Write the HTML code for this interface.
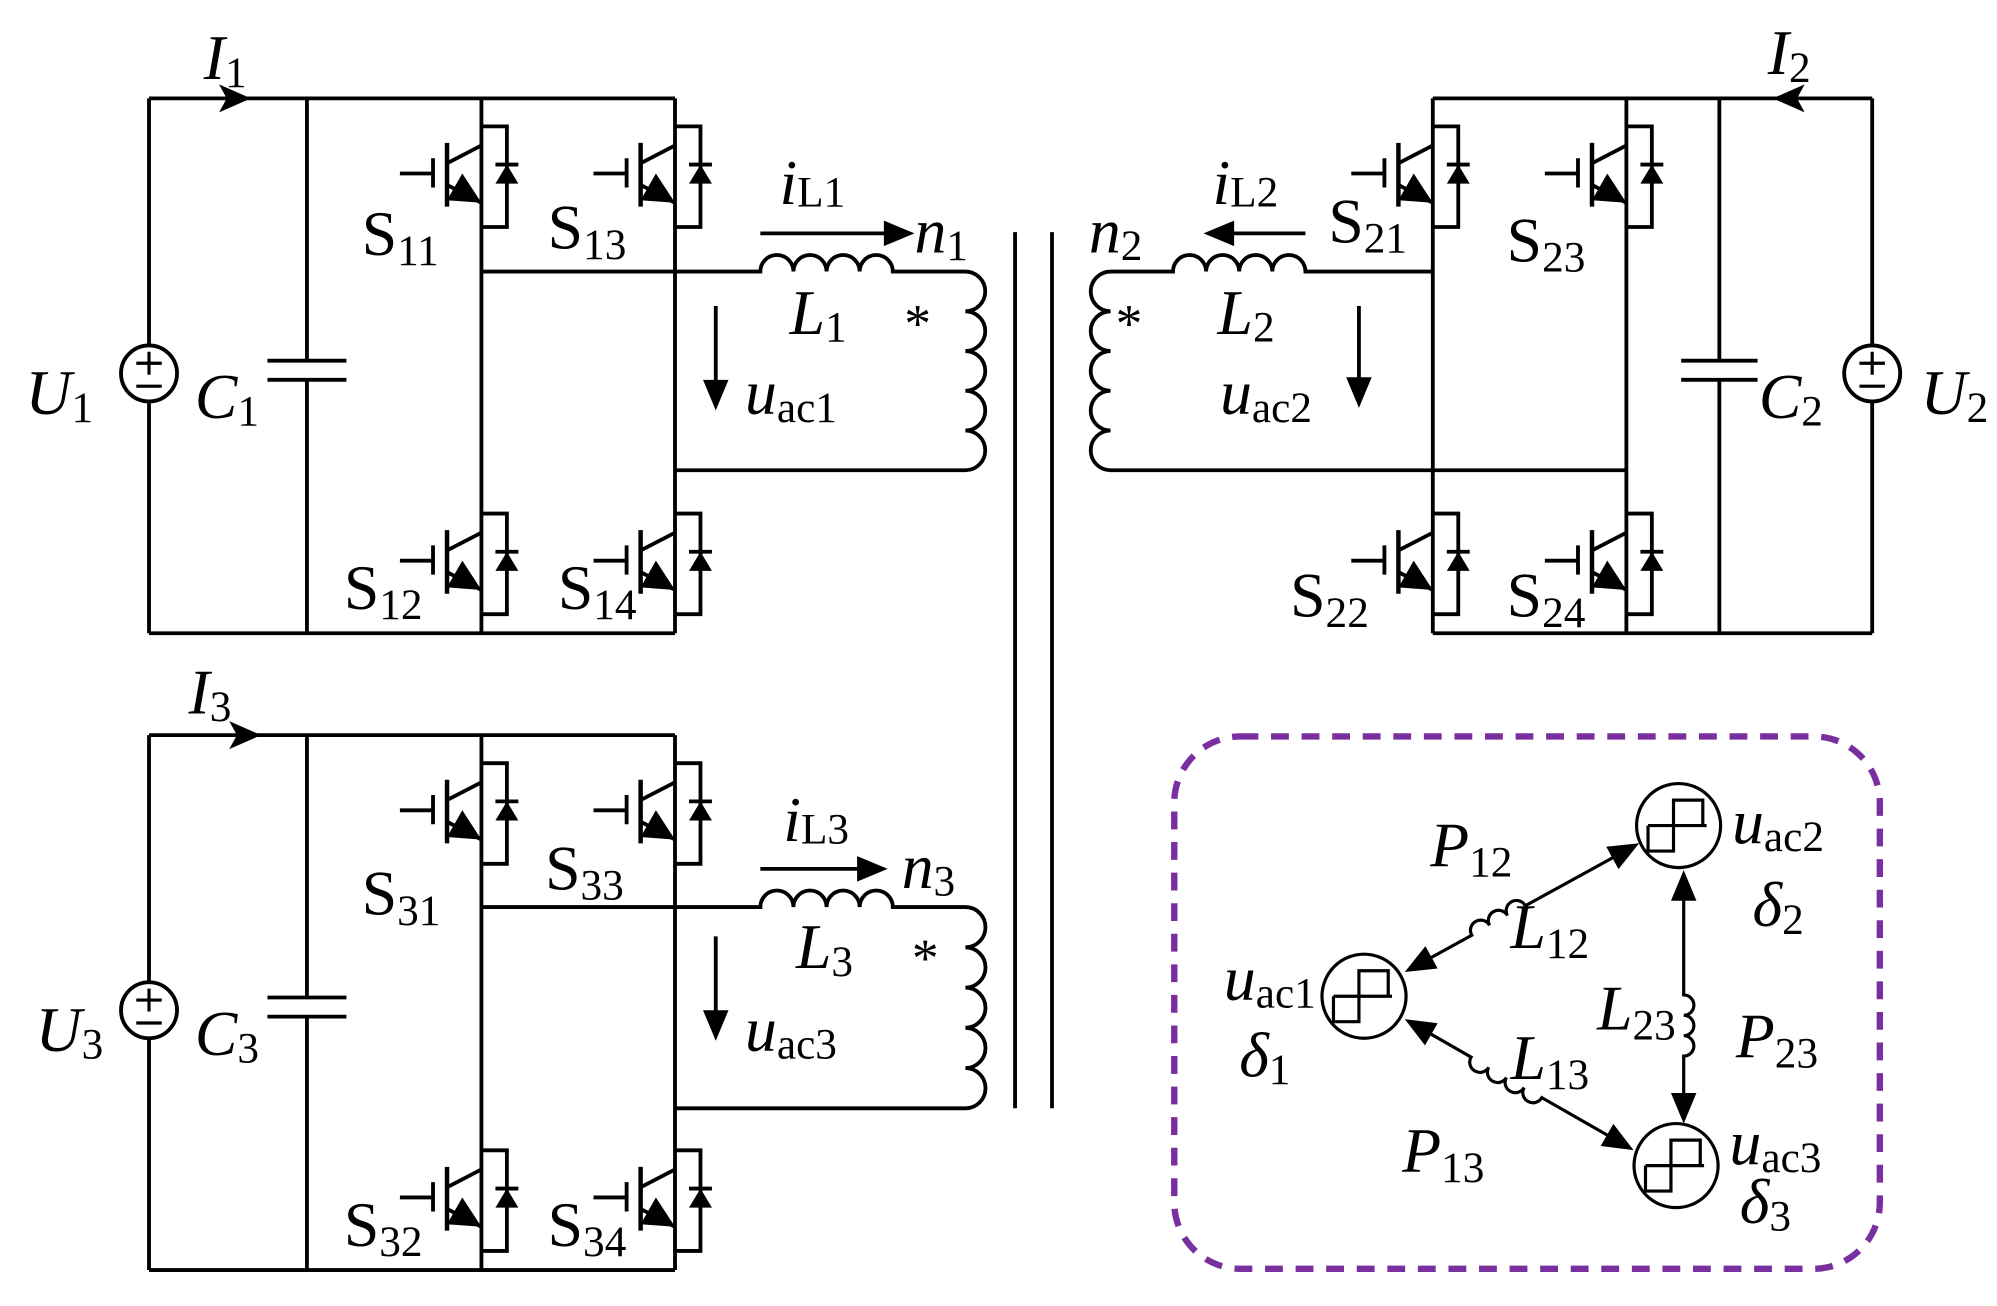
<!DOCTYPE html>
<html><head><meta charset="utf-8"><style>
html,body{margin:0;padding:0;background:#fff;}
svg{display:block;}
text{font-family:"Liberation Serif",serif;fill:#000;}
.i{font-style:italic;}
</style></head><body>
<svg width="1997" height="1306" viewBox="0 0 1568 1025" xmlns="http://www.w3.org/2000/svg">
<defs>
<g id="igbt" fill="none" stroke="#000" stroke-width="3">
<path d="M-64,0 H-38 M-38,-12 V11 M-27,-8 L0,-22 M-27,9 L0,23 M0,-37 H20 V42 H0"/>
<path d="M-27,-24 V26" stroke-width="3.5"/>
<polygon points="0,23 -27,21 -15,0" fill="#000" stroke="none"/>
<polygon points="11,8 29,8 20,-7" fill="#000" stroke="none"/>
<path d="M11,-7 H29"/>
</g>
<g id="src">
<circle cx="0" cy="0" r="22" fill="#fff" stroke="#000" stroke-width="3"/>
<path d="M-10,-8 H10 M0,-17 V1 M-10,10 H10" stroke="#000" stroke-width="2.5"/>
</g>
<g id="wave" fill="none" stroke="#000" stroke-width="2.5">
<path d="M-24,0 V20 H-4 V-20 H19 V0 M-24,0 H22"/>
</g>
</defs>

<g fill="none" stroke="#000" stroke-width="3">
<path d="M117,77 H530 M117,497 H530 M117,77 V497 M241,77 V283 M241,298 V497 M210,283 H272 M210,298 H272 M378,77 V497 M530,77 V497"/>
<path d="M378,213 H597 a13,13 0 0 1 26,0 a13,13 0 0 1 26,0 a13,13 0 0 1 26,0 a13,13 0 0 1 26,0 H758 a15.6,15.6 0 0 1 0,31.2 a15.6,15.6 0 0 1 0,31.2 a15.6,15.6 0 0 1 0,31.2 a15.6,15.6 0 0 1 0,31.2 a15.6,15.6 0 0 1 0,31.2 H530"/>
<path d="M597,183 H705 M562,240 V305"/>
<path d="M117,577 H530 M117,997 H530 M117,577 V997 M241,577 V783 M241,798 V997 M210,783 H272 M210,798 H272 M378,577 V997 M530,577 V997"/>
<path d="M378,712 H597 a13,13 0 0 1 26,0 a13,13 0 0 1 26,0 a13,13 0 0 1 26,0 a13,13 0 0 1 26,0 H758 a15.8,15.8 0 0 1 0,31.6 a15.8,15.8 0 0 1 0,31.6 a15.8,15.8 0 0 1 0,31.6 a15.8,15.8 0 0 1 0,31.6 a15.8,15.8 0 0 1 0,31.6 H530"/>
<path d="M597,682 H685 M562,735 V800"/>
<path d="M1125,77 H1470 M1125,497 H1470 M1470,77 V497 M1350,77 V283 M1350,298 V497 M1320,283 H1380 M1320,298 H1380 M1125,77 V497 M1277,77 V497"/>
<path d="M1125,213 H1025 a13,13 0 0 0 -26,0 a13,13 0 0 0 -26,0 a13,13 0 0 0 -26,0 a13,13 0 0 0 -26,0 H872 a15.6,15.6 0 0 0 0,31.2 a15.6,15.6 0 0 0 0,31.2 a15.6,15.6 0 0 0 0,31.2 a15.6,15.6 0 0 0 0,31.2 a15.6,15.6 0 0 0 0,31.2 H1277"/>
<path d="M1025,183 H960 M1067,240 V305"/>
<path d="M797,182 V870 M826,182 V870"/>
</g>
<g fill="#000">
<polygon points="197,77 172,66 178,77 172,88"/>
<polygon points="205,577 180,566 186,577 180,588"/>
<polygon points="1392,77 1417,66 1411,77 1417,88"/>
<polygon points="718,183 694,173 694,193"/>
<polygon points="697,682 673,672 673,692"/>
<polygon points="945,183 969,173 969,193"/>
<polygon points="562,322 552,298 572,298"/>
<polygon points="562,817 552,793 572,793"/>
<polygon points="1067,320 1057,296 1077,296"/>
</g>
<use href="#src" x="117" y="293"/>
<use href="#src" x="117" y="793"/>
<use href="#src" x="1470" y="293"/>
<use href="#igbt" x="378" y="136"/>
<use href="#igbt" x="530" y="136"/>
<use href="#igbt" x="378" y="440"/>
<use href="#igbt" x="530" y="440"/>
<use href="#igbt" x="378" y="636"/>
<use href="#igbt" x="530" y="636"/>
<use href="#igbt" x="378" y="940"/>
<use href="#igbt" x="530" y="940"/>
<use href="#igbt" x="1125" y="136"/>
<use href="#igbt" x="1277" y="136"/>
<use href="#igbt" x="1125" y="440"/>
<use href="#igbt" x="1277" y="440"/>

<rect x="922" y="578" width="554" height="418" rx="52" fill="none" stroke="#7a2f9e" stroke-width="5" stroke-dasharray="14,10"/>
<g fill="none" stroke="#000" stroke-width="2.5">
<circle cx="1071" cy="782" r="33"/>
<circle cx="1318" cy="648" r="33"/>
<circle cx="1316" cy="915" r="33"/>
</g>
<use href="#wave" x="1071" y="782"/>
<use href="#wave" x="1318" y="648"/>
<use href="#wave" x="1316" y="915"/>
<g transform="translate(1103,763) rotate(-28.8)">
<path d="M18,0 H60 a8,8 0 0 1 16,0 a8,8 0 0 1 16,0 a8,8 0 0 1 16,0 H192" fill="none" stroke="#000" stroke-width="2.5"/>
<polygon points="0,0 24,-10 24,10" fill="#000"/>
<polygon points="210,0 186,-10 186,10" fill="#000"/>
</g>
<g transform="translate(1322,683) rotate(90)">
<path d="M18,0 H98 a8,8 0 0 1 16,0 a8,8 0 0 1 16,0 a8,8 0 0 1 16,0 H181" fill="none" stroke="#000" stroke-width="2.5"/>
<polygon points="0,0 24,-10 24,10" fill="#000"/>
<polygon points="199,0 175,-10 175,10" fill="#000"/>
</g>
<g transform="translate(1103,800) rotate(29.8)">
<path d="M18,0 H60 a8,8 0 0 0 16,0 a8,8 0 0 0 16,0 a8,8 0 0 0 16,0 a8,8 0 0 0 16,0 H189" fill="none" stroke="#000" stroke-width="2.5"/>
<polygon points="0,0 24,-10 24,10" fill="#000"/>
<polygon points="207,0 183,-10 183,10" fill="#000"/>
</g>

<g font-size="50">
<text x="160" y="62"><tspan class="i">I</tspan><tspan font-size="34" dy="6">1</tspan></text>
<text x="148" y="560"><tspan class="i">I</tspan><tspan font-size="34" dy="6">3</tspan></text>
<text x="1388" y="58"><tspan class="i">I</tspan><tspan font-size="34" dy="6">2</tspan></text>
<text x="20" y="325"><tspan class="i">U</tspan><tspan font-size="34" dy="6">1</tspan></text>
<text x="28" y="825"><tspan class="i">U</tspan><tspan font-size="34" dy="6">3</tspan></text>
<text x="1508" y="325"><tspan class="i">U</tspan><tspan font-size="34" dy="6">2</tspan></text>
<text x="153" y="328"><tspan class="i">C</tspan><tspan font-size="34" dy="6">1</tspan></text>
<text x="153" y="828"><tspan class="i">C</tspan><tspan font-size="34" dy="6">3</tspan></text>
<text x="1381" y="328"><tspan class="i">C</tspan><tspan font-size="34" dy="6">2</tspan></text>
<text x="284" y="200">S<tspan font-size="34" dy="8">11</tspan></text>
<text x="430" y="195">S<tspan font-size="34" dy="8">13</tspan></text>
<text x="270" y="478">S<tspan font-size="34" dy="8">12</tspan></text>
<text x="438" y="478">S<tspan font-size="34" dy="8">14</tspan></text>
<text x="284" y="718">S<tspan font-size="34" dy="8">31</tspan></text>
<text x="428" y="698">S<tspan font-size="34" dy="8">33</tspan></text>
<text x="270" y="978">S<tspan font-size="34" dy="8">32</tspan></text>
<text x="430" y="978">S<tspan font-size="34" dy="8">34</tspan></text>
<text x="1043" y="190">S<tspan font-size="34" dy="8">21</tspan></text>
<text x="1183" y="205">S<tspan font-size="34" dy="8">23</tspan></text>
<text x="1013" y="484">S<tspan font-size="34" dy="8">22</tspan></text>
<text x="1183" y="484">S<tspan font-size="34" dy="8">24</tspan></text>
<text x="612" y="160"><tspan class="i">i</tspan><tspan font-size="34" dy="2">L1</tspan></text>
<text x="615" y="660"><tspan class="i">i</tspan><tspan font-size="34" dy="2">L3</tspan></text>
<text x="952" y="160"><tspan class="i">i</tspan><tspan font-size="34" dy="2">L2</tspan></text>
<text x="718" y="198"><tspan class="i">n</tspan><tspan font-size="34" dy="6">1</tspan></text>
<text x="708" y="697"><tspan class="i">n</tspan><tspan font-size="34" dy="6">3</tspan></text>
<text x="855" y="198"><tspan class="i">n</tspan><tspan font-size="34" dy="6">2</tspan></text>
<text x="620" y="262"><tspan class="i">L</tspan><tspan font-size="34" dy="6">1</tspan></text>
<text x="625" y="760"><tspan class="i">L</tspan><tspan font-size="34" dy="6">3</tspan></text>
<text x="956" y="262"><tspan class="i">L</tspan><tspan font-size="34" dy="6">2</tspan></text>
<text x="585" y="325"><tspan class="i">u</tspan><tspan font-size="34" dy="6">ac1</tspan></text>
<text x="585" y="825"><tspan class="i">u</tspan><tspan font-size="34" dy="6">ac3</tspan></text>
<text x="958" y="325"><tspan class="i">u</tspan><tspan font-size="34" dy="6">ac2</tspan></text>
<text x="710" y="268" font-size="42">*</text>
<text x="716" y="766" font-size="42">*</text>
<text x="876" y="268" font-size="42">*</text>
<text x="1123" y="680"><tspan class="i">P</tspan><tspan font-size="34" dy="8">12</tspan></text>
<text x="1186" y="744"><tspan class="i">L</tspan><tspan font-size="34" dy="8">12</tspan></text>
<text x="961" y="785"><tspan class="i">u</tspan><tspan font-size="34" dy="6">ac1</tspan></text>
<text x="973" y="845" class="i">δ<tspan font-size="34" dy="6" font-style="normal">1</tspan></text>
<text x="1360" y="662"><tspan class="i">u</tspan><tspan font-size="34" dy="6">ac2</tspan></text>
<text x="1376" y="727" class="i">δ<tspan font-size="34" dy="6" font-style="normal">2</tspan></text>
<text x="1254" y="808"><tspan class="i">L</tspan><tspan font-size="34" dy="8">23</tspan></text>
<text x="1363" y="830"><tspan class="i">P</tspan><tspan font-size="34" dy="8">23</tspan></text>
<text x="1186" y="847"><tspan class="i">L</tspan><tspan font-size="34" dy="8">13</tspan></text>
<text x="1101" y="920"><tspan class="i">P</tspan><tspan font-size="34" dy="8">13</tspan></text>
<text x="1358" y="914"><tspan class="i">u</tspan><tspan font-size="34" dy="6">ac3</tspan></text>
<text x="1366" y="960" class="i">δ<tspan font-size="34" dy="6" font-style="normal">3</tspan></text>
</g>
</svg>
</body></html>
